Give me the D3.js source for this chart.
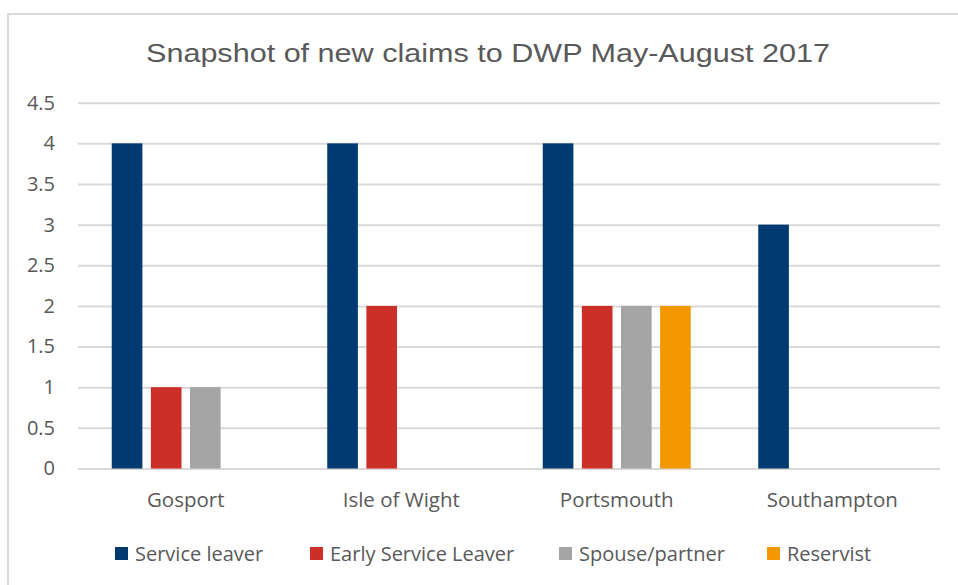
<!DOCTYPE html>
<html>
<head>
<meta charset="utf-8">
<script src="https://cdn.jsdelivr.net/npm/d3@7"></script>
<style>
  html, body { margin: 0; padding: 0; background: #fff; }
  svg { display: block; }
</style>
</head>
<body>
<svg id="chart" width="958" height="585"></svg>
<script>
const categories = ["Gosport", "Isle of Wight", "Portsmouth", "Southampton"];
const seriesNames = ["Service leaver", "Early Service Leaver", "Spouse/partner", "Reservist"];
const serviceLeaver = [4, 4, 4, 3];
const earlyServiceLeaver = [1, 2, 2, 0];
const spousePartner = [1, 0, 2, 0];
const reservist = [0, 0, 2, 0];
const yTicks = [0, 0.5, 1, 1.5, 2, 2.5, 3, 3.5, 4, 4.5];
const colors = ["#003a70", "#cc2f27", "#a5a5a5", "#f39800"];
const title = "Snapshot of new claims to DWP May-August 2017";

const seriesValues = [serviceLeaver, earlyServiceLeaver, spousePartner, reservist];

const svg = d3.select("#chart");
const textColor = "#595959";
const font = "'Open Sans', sans-serif";

// border
svg.append("path")
  .attr("d", "M8,585 L8,14 L958,14")
  .attr("fill", "none")
  .attr("stroke", "#d9d9d9")
  .attr("stroke-width", 2);

const plotLeft = 78, plotRight = 940, plotTop = 102.7, plotBottom = 468.5;

const x0 = d3.scaleBand().domain(categories).range([plotLeft, plotRight]).paddingInner(0).paddingOuter(0);
const bw = x0.bandwidth();
const groupPad = 33.75;
const x1 = d3.scaleBand().domain(seriesNames).range([groupPad, bw - groupPad]).paddingInner(0.217).paddingOuter(0);
const y = d3.scaleLinear().domain([0, 4.5]).range([plotBottom, plotTop]);

// gridlines + y labels
const yAxis = d3.axisLeft(y).tickValues(yTicks).tickSize(-(plotRight - plotLeft)).tickPadding(23)
  .tickFormat(d => String(d));
const gy = svg.append("g").attr("transform", `translate(${plotLeft},0)`).call(yAxis);
gy.select(".domain").remove();
gy.selectAll(".tick line").attr("stroke", "#d9d9d9").attr("stroke-width", 2);
gy.selectAll(".tick text").attr("fill", textColor).style("font-family", font).style("font-size", "20px");

// bars
const data = [];
categories.forEach((c, ci) => {
  seriesNames.forEach((s, si) => {
    data.push({ cat: c, series: s, value: seriesValues[si][ci], color: colors[si] });
  });
});
svg.append("g").selectAll("rect").data(data.filter(d => d.value > 0)).join("rect")
  .attr("x", d => x0(d.cat) + x1(d.series))
  .attr("y", d => y(d.value))
  .attr("width", x1.bandwidth())
  .attr("height", d => y(0) - y(d.value))
  .attr("fill", d => d.color);

// x axis labels
const xAxis = d3.axisBottom(x0).tickSize(0);
const gx = svg.append("g").attr("transform", `translate(0,${plotBottom})`).call(xAxis);
gx.select(".domain").remove();
gx.selectAll(".tick text").attr("y", 38).attr("dy", 0)
  .attr("fill", textColor).style("font-family", font).style("font-size", "20.5px");

// title
svg.append("text")
  .attr("x", 488).attr("y", 62)
  .attr("text-anchor", "middle")
  .attr("fill", textColor)
  .style("font-family", "'Liberation Sans Narrow', 'Arial Narrow', 'Liberation Sans', sans-serif")
  .style("font-size", "26px")
  .attr("textLength", 684)
  .attr("lengthAdjust", "spacingAndGlyphs")
  .text(title);

// legend
const legendX = [115, 310, 559, 767];
const lg = svg.append("g");
seriesNames.forEach((s, i) => {
  lg.append("rect").attr("x", legendX[i]).attr("y", 547).attr("width", 13).attr("height", 13).attr("fill", colors[i]);
  lg.append("text").attr("x", legendX[i] + 20).attr("y", 561)
    .attr("fill", textColor).style("font-family", font).style("font-size", "20px").text(s);
});
</script>
</body>
</html>
